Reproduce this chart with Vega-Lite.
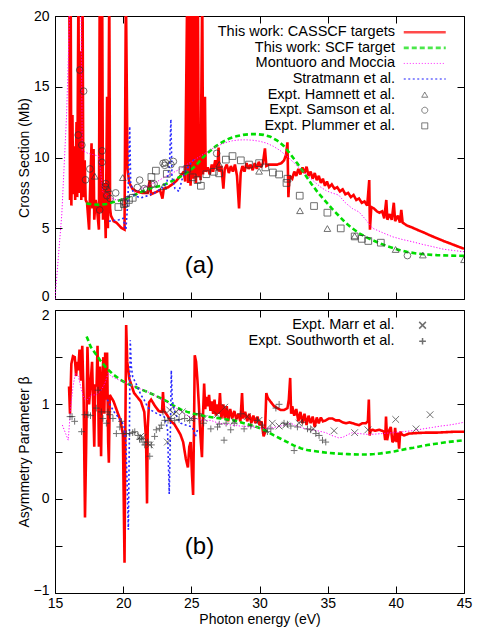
{
  "$schema": "https://vega.github.io/schema/vega-lite/v6.json",
  "padding": {"left": 16, "top": 8, "right": 22, "bottom": 0},
  "config": {
    "font": "Liberation Sans",
    "view": {"stroke": "#000", "strokeWidth": 1},
    "axis": {"domain": false, "grid": false, "tickColor": "#000", "tickWidth": 1, "tickSize": 7, "offset": -7, "labelPadding": 6, "labelFontSize": 14, "titleFontSize": 14, "titleFontWeight": "normal", "labelColor": "#000", "titleColor": "#000", "labelFlush": false, "labelOverlap": false},
    "legend": {"padding": 0}
  },
  "bounds": "flush",
  "spacing": 11,
  "resolve": {"scale": {"color": "independent", "shape": "independent", "strokeDash": "independent", "strokeWidth": "independent"}, "legend": {"color": "independent", "shape": "independent", "strokeDash": "independent", "strokeWidth": "independent"}},
  "datasets": {
    "a_lines": [
      {"s":"This work: CASSCF targets","E":16.05,"v":22},{"s":"This work: CASSCF targets","E":16.1,"v":7.0},{"s":"This work: CASSCF targets","E":16.15,"v":22},{"s":"This work: CASSCF targets","E":16.2,"v":6.6},{"s":"This work: CASSCF targets","E":16.28,"v":13.0},{"s":"This work: CASSCF targets","E":16.33,"v":7.4},{"s":"This work: CASSCF targets","E":16.42,"v":10.8},{"s":"This work: CASSCF targets","E":16.48,"v":7.0},{"s":"This work: CASSCF targets","E":16.58,"v":12.5},{"s":"This work: CASSCF targets","E":16.63,"v":7.2},{"s":"This work: CASSCF targets","E":16.72,"v":22},{"s":"This work: CASSCF targets","E":16.78,"v":7.5},{"s":"This work: CASSCF targets","E":16.88,"v":17.5},{"s":"This work: CASSCF targets","E":16.93,"v":7.0},{"s":"This work: CASSCF targets","E":17.02,"v":22},{"s":"This work: CASSCF targets","E":17.08,"v":7.2},{"s":"This work: CASSCF targets","E":17.18,"v":9.8},{"s":"This work: CASSCF targets","E":17.25,"v":7.0},{"s":"This work: CASSCF targets","E":17.35,"v":6.8},{"s":"This work: CASSCF targets","E":17.5,"v":4.9},{"s":"This work: CASSCF targets","E":17.57,"v":7.6},{"s":"This work: CASSCF targets","E":17.68,"v":11.0},{"s":"This work: CASSCF targets","E":17.74,"v":6.4},{"s":"This work: CASSCF targets","E":17.83,"v":10.6},{"s":"This work: CASSCF targets","E":17.88,"v":5.6},{"s":"This work: CASSCF targets","E":17.98,"v":7.0},{"s":"This work: CASSCF targets","E":18.08,"v":6.4},{"s":"This work: CASSCF targets","E":18.22,"v":4.9},{"s":"This work: CASSCF targets","E":18.28,"v":22},{"s":"This work: CASSCF targets","E":18.36,"v":6.1},{"s":"This work: CASSCF targets","E":18.46,"v":22},{"s":"This work: CASSCF targets","E":18.52,"v":5.6},{"s":"This work: CASSCF targets","E":18.62,"v":8.2},{"s":"This work: CASSCF targets","E":18.72,"v":4.3},{"s":"This work: CASSCF targets","E":18.82,"v":14.3},{"s":"This work: CASSCF targets","E":18.88,"v":5.0},{"s":"This work: CASSCF targets","E":18.98,"v":22},{"s":"This work: CASSCF targets","E":19.04,"v":6.4},{"s":"This work: CASSCF targets","E":19.1,"v":5.9},{"s":"This work: CASSCF targets","E":19.3,"v":5.5},{"s":"This work: CASSCF targets","E":19.5,"v":5.4},{"s":"This work: CASSCF targets","E":19.7,"v":5.2},{"s":"This work: CASSCF targets","E":19.9,"v":5.0},{"s":"This work: CASSCF targets","E":20.1,"v":4.9},{"s":"This work: CASSCF targets","E":20.2,"v":22},{"s":"This work: CASSCF targets","E":20.32,"v":9.2},{"s":"This work: CASSCF targets","E":20.45,"v":8.2},{"s":"This work: CASSCF targets","E":20.7,"v":7.75},{"s":"This work: CASSCF targets","E":21.0,"v":7.6},{"s":"This work: CASSCF targets","E":21.4,"v":7.5},{"s":"This work: CASSCF targets","E":21.8,"v":7.5},{"s":"This work: CASSCF targets","E":21.95,"v":8.4},{"s":"This work: CASSCF targets","E":22.05,"v":7.4},{"s":"This work: CASSCF targets","E":22.4,"v":7.55},{"s":"This work: CASSCF targets","E":22.7,"v":7.7},{"s":"This work: CASSCF targets","E":22.88,"v":7.1},{"s":"This work: CASSCF targets","E":22.98,"v":7.8},{"s":"This work: CASSCF targets","E":23.3,"v":7.9},{"s":"This work: CASSCF targets","E":23.6,"v":8.1},{"s":"This work: CASSCF targets","E":23.9,"v":8.35},{"s":"This work: CASSCF targets","E":24.2,"v":8.7},{"s":"This work: CASSCF targets","E":24.45,"v":9.0},{"s":"This work: CASSCF targets","E":24.55,"v":8.3},{"s":"This work: CASSCF targets","E":24.7,"v":22},{"s":"This work: CASSCF targets","E":24.76,"v":8.2},{"s":"This work: CASSCF targets","E":24.88,"v":22},{"s":"This work: CASSCF targets","E":24.94,"v":8.0},{"s":"This work: CASSCF targets","E":25.02,"v":9.6},{"s":"This work: CASSCF targets","E":25.08,"v":22},{"s":"This work: CASSCF targets","E":25.14,"v":8.5},{"s":"This work: CASSCF targets","E":25.28,"v":22},{"s":"This work: CASSCF targets","E":25.34,"v":8.2},{"s":"This work: CASSCF targets","E":25.48,"v":22},{"s":"This work: CASSCF targets","E":25.54,"v":8.6},{"s":"This work: CASSCF targets","E":25.62,"v":10.2},{"s":"This work: CASSCF targets","E":25.68,"v":8.4},{"s":"This work: CASSCF targets","E":25.8,"v":22},{"s":"This work: CASSCF targets","E":25.86,"v":8.8},{"s":"This work: CASSCF targets","E":26.0,"v":14.3},{"s":"This work: CASSCF targets","E":26.05,"v":9.0},{"s":"This work: CASSCF targets","E":26.2,"v":9.3},{"s":"This work: CASSCF targets","E":26.35,"v":8.8},{"s":"This work: CASSCF targets","E":26.5,"v":9.5},{"s":"This work: CASSCF targets","E":26.6,"v":9.0},{"s":"This work: CASSCF targets","E":26.75,"v":9.8},{"s":"This work: CASSCF targets","E":26.9,"v":9.1},{"s":"This work: CASSCF targets","E":27.0,"v":10.7},{"s":"This work: CASSCF targets","E":27.05,"v":9.0},{"s":"This work: CASSCF targets","E":27.2,"v":9.4},{"s":"This work: CASSCF targets","E":27.35,"v":7.8},{"s":"This work: CASSCF targets","E":27.45,"v":9.2},{"s":"This work: CASSCF targets","E":27.6,"v":9.5},{"s":"This work: CASSCF targets","E":27.75,"v":8.9},{"s":"This work: CASSCF targets","E":27.9,"v":9.4},{"s":"This work: CASSCF targets","E":28.05,"v":9.0},{"s":"This work: CASSCF targets","E":28.2,"v":9.5},{"s":"This work: CASSCF targets","E":28.35,"v":8.7},{"s":"This work: CASSCF targets","E":28.5,"v":6.4},{"s":"This work: CASSCF targets","E":28.62,"v":8.9},{"s":"This work: CASSCF targets","E":28.75,"v":9.4},{"s":"This work: CASSCF targets","E":28.9,"v":9.0},{"s":"This work: CASSCF targets","E":29.05,"v":9.6},{"s":"This work: CASSCF targets","E":29.2,"v":9.2},{"s":"This work: CASSCF targets","E":29.35,"v":9.5},{"s":"This work: CASSCF targets","E":29.5,"v":9.1},{"s":"This work: CASSCF targets","E":29.65,"v":9.6},{"s":"This work: CASSCF targets","E":29.8,"v":9.2},{"s":"This work: CASSCF targets","E":29.95,"v":9.7},{"s":"This work: CASSCF targets","E":30.1,"v":9.3},{"s":"This work: CASSCF targets","E":30.25,"v":9.6},{"s":"This work: CASSCF targets","E":30.4,"v":10.65},{"s":"This work: CASSCF targets","E":30.5,"v":9.4},{"s":"This work: CASSCF targets","E":30.7,"v":9.5},{"s":"This work: CASSCF targets","E":31.0,"v":9.5},{"s":"This work: CASSCF targets","E":31.3,"v":9.5},{"s":"This work: CASSCF targets","E":31.6,"v":9.6},{"s":"This work: CASSCF targets","E":31.8,"v":9.8},{"s":"This work: CASSCF targets","E":31.95,"v":10.2},{"s":"This work: CASSCF targets","E":32.05,"v":11.07},{"s":"This work: CASSCF targets","E":32.12,"v":7.2},{"s":"This work: CASSCF targets","E":32.2,"v":8.7},{"s":"This work: CASSCF targets","E":32.4,"v":8.5},{"s":"This work: CASSCF targets","E":32.55,"v":9.0},{"s":"This work: CASSCF targets","E":32.7,"v":8.7},{"s":"This work: CASSCF targets","E":32.85,"v":9.2},{"s":"This work: CASSCF targets","E":33.0,"v":8.8},{"s":"This work: CASSCF targets","E":33.15,"v":9.3},{"s":"This work: CASSCF targets","E":33.3,"v":8.9},{"s":"This work: CASSCF targets","E":33.45,"v":9.35},{"s":"This work: CASSCF targets","E":33.6,"v":8.7},{"s":"This work: CASSCF targets","E":33.75,"v":9.0},{"s":"This work: CASSCF targets","E":33.9,"v":8.5},{"s":"This work: CASSCF targets","E":34.05,"v":8.9},{"s":"This work: CASSCF targets","E":34.2,"v":8.4},{"s":"This work: CASSCF targets","E":34.35,"v":8.7},{"s":"This work: CASSCF targets","E":34.5,"v":8.2},{"s":"This work: CASSCF targets","E":34.65,"v":8.5},{"s":"This work: CASSCF targets","E":34.8,"v":8.0},{"s":"This work: CASSCF targets","E":34.95,"v":8.3},{"s":"This work: CASSCF targets","E":35.1,"v":7.9},{"s":"This work: CASSCF targets","E":35.3,"v":8.1},{"s":"This work: CASSCF targets","E":35.5,"v":7.8},{"s":"This work: CASSCF targets","E":35.7,"v":7.9},{"s":"This work: CASSCF targets","E":35.9,"v":7.6},{"s":"This work: CASSCF targets","E":36.1,"v":7.75},{"s":"This work: CASSCF targets","E":36.3,"v":7.4},{"s":"This work: CASSCF targets","E":36.5,"v":7.5},{"s":"This work: CASSCF targets","E":36.7,"v":7.2},{"s":"This work: CASSCF targets","E":36.9,"v":7.35},{"s":"This work: CASSCF targets","E":37.1,"v":7.0},{"s":"This work: CASSCF targets","E":37.3,"v":7.1},{"s":"This work: CASSCF targets","E":37.5,"v":6.8},{"s":"This work: CASSCF targets","E":37.7,"v":6.9},{"s":"This work: CASSCF targets","E":37.9,"v":6.6},{"s":"This work: CASSCF targets","E":38.05,"v":8.4},{"s":"This work: CASSCF targets","E":38.1,"v":4.9},{"s":"This work: CASSCF targets","E":38.2,"v":6.5},{"s":"This work: CASSCF targets","E":38.4,"v":6.4},{"s":"This work: CASSCF targets","E":38.6,"v":6.2},{"s":"This work: CASSCF targets","E":38.8,"v":6.1},{"s":"This work: CASSCF targets","E":39.0,"v":6.2},{"s":"This work: CASSCF targets","E":39.15,"v":5.7},{"s":"This work: CASSCF targets","E":39.3,"v":7.0},{"s":"This work: CASSCF targets","E":39.38,"v":5.6},{"s":"This work: CASSCF targets","E":39.55,"v":6.0},{"s":"This work: CASSCF targets","E":39.7,"v":5.6},{"s":"This work: CASSCF targets","E":39.85,"v":6.8},{"s":"This work: CASSCF targets","E":39.95,"v":5.5},{"s":"This work: CASSCF targets","E":40.15,"v":5.9},{"s":"This work: CASSCF targets","E":40.3,"v":5.4},{"s":"This work: CASSCF targets","E":40.4,"v":6.3},{"s":"This work: CASSCF targets","E":40.5,"v":5.4},{"s":"This work: CASSCF targets","E":40.8,"v":5.2},{"s":"This work: CASSCF targets","E":41.2,"v":5.05},{"s":"This work: CASSCF targets","E":41.6,"v":4.88},{"s":"This work: CASSCF targets","E":42.0,"v":4.72},{"s":"This work: CASSCF targets","E":42.5,"v":4.5},{"s":"This work: CASSCF targets","E":43.0,"v":4.3},{"s":"This work: CASSCF targets","E":43.5,"v":4.1},{"s":"This work: CASSCF targets","E":44.0,"v":3.92},{"s":"This work: CASSCF targets","E":44.5,"v":3.73},{"s":"This work: CASSCF targets","E":45.0,"v":3.55},
      {"s":"This work: SCF target","E":17.3,"v":6.75},{"s":"This work: SCF target","E":17.8,"v":6.68},{"s":"This work: SCF target","E":18.3,"v":6.65},{"s":"This work: SCF target","E":18.8,"v":6.72},{"s":"This work: SCF target","E":19.3,"v":6.85},{"s":"This work: SCF target","E":19.8,"v":7.0},{"s":"This work: SCF target","E":20.3,"v":7.15},{"s":"This work: SCF target","E":20.8,"v":7.35},{"s":"This work: SCF target","E":21.3,"v":7.55},{"s":"This work: SCF target","E":21.8,"v":7.75},{"s":"This work: SCF target","E":22.3,"v":7.9},{"s":"This work: SCF target","E":22.8,"v":8.0},{"s":"This work: SCF target","E":23.3,"v":8.2},{"s":"This work: SCF target","E":23.8,"v":8.45},{"s":"This work: SCF target","E":24.3,"v":8.7},{"s":"This work: SCF target","E":24.8,"v":9.0},{"s":"This work: SCF target","E":25.3,"v":9.4},{"s":"This work: SCF target","E":25.8,"v":9.95},{"s":"This work: SCF target","E":26.3,"v":10.4},{"s":"This work: SCF target","E":26.8,"v":10.8},{"s":"This work: SCF target","E":27.3,"v":11.1},{"s":"This work: SCF target","E":27.8,"v":11.35},{"s":"This work: SCF target","E":28.3,"v":11.5},{"s":"This work: SCF target","E":28.8,"v":11.6},{"s":"This work: SCF target","E":29.3,"v":11.65},{"s":"This work: SCF target","E":29.8,"v":11.65},{"s":"This work: SCF target","E":30.3,"v":11.6},{"s":"This work: SCF target","E":30.8,"v":11.47},{"s":"This work: SCF target","E":31.3,"v":11.2},{"s":"This work: SCF target","E":31.8,"v":10.8},{"s":"This work: SCF target","E":32.3,"v":10.2},{"s":"This work: SCF target","E":32.8,"v":9.55},{"s":"This work: SCF target","E":33.3,"v":8.85},{"s":"This work: SCF target","E":33.8,"v":8.15},{"s":"This work: SCF target","E":34.3,"v":7.5},{"s":"This work: SCF target","E":34.8,"v":6.95},{"s":"This work: SCF target","E":35.3,"v":6.4},{"s":"This work: SCF target","E":35.8,"v":5.9},{"s":"This work: SCF target","E":36.3,"v":5.4},{"s":"This work: SCF target","E":36.8,"v":5.0},{"s":"This work: SCF target","E":37.3,"v":4.65},{"s":"This work: SCF target","E":37.8,"v":4.38},{"s":"This work: SCF target","E":38.3,"v":4.15},{"s":"This work: SCF target","E":38.8,"v":3.95},{"s":"This work: SCF target","E":39.3,"v":3.75},{"s":"This work: SCF target","E":39.8,"v":3.6},{"s":"This work: SCF target","E":40.3,"v":3.45},{"s":"This work: SCF target","E":40.8,"v":3.33},{"s":"This work: SCF target","E":41.5,"v":3.22},{"s":"This work: SCF target","E":42.2,"v":3.15},{"s":"This work: SCF target","E":43.0,"v":3.1},{"s":"This work: SCF target","E":44.0,"v":3.07},{"s":"This work: SCF target","E":45.0,"v":3.05},
      {"s":"Montuoro and Moccia","E":15.0,"v":0},{"s":"Montuoro and Moccia","E":15.25,"v":3.0},{"s":"Montuoro and Moccia","E":15.5,"v":6.0},{"s":"Montuoro and Moccia","E":15.85,"v":13.0},{"s":"Montuoro and Moccia","E":16.1,"v":21},{"s":"Montuoro and Moccia","E":16.9,"v":21},{"s":"Montuoro and Moccia","E":17.0,"v":10.5},{"s":"Montuoro and Moccia","E":17.4,"v":10.3},{"s":"Montuoro and Moccia","E":18.2,"v":10.1},{"s":"Montuoro and Moccia","E":18.35,"v":9.0},{"s":"Montuoro and Moccia","E":18.5,"v":7.6},{"s":"Montuoro and Moccia","E":18.9,"v":7.2},{"s":"Montuoro and Moccia","E":19.5,"v":7.0},{"s":"Montuoro and Moccia","E":20.0,"v":7.05},{"s":"Montuoro and Moccia","E":20.5,"v":7.3},{"s":"Montuoro and Moccia","E":21.0,"v":7.6},{"s":"Montuoro and Moccia","E":21.5,"v":7.9},{"s":"Montuoro and Moccia","E":22.0,"v":8.1},{"s":"Montuoro and Moccia","E":22.5,"v":8.3},{"s":"Montuoro and Moccia","E":23.0,"v":8.6},{"s":"Montuoro and Moccia","E":23.5,"v":8.85},{"s":"Montuoro and Moccia","E":24.0,"v":9.1},{"s":"Montuoro and Moccia","E":24.5,"v":9.4},{"s":"Montuoro and Moccia","E":25.0,"v":9.7},{"s":"Montuoro and Moccia","E":25.5,"v":10.0},{"s":"Montuoro and Moccia","E":26.0,"v":10.3},{"s":"Montuoro and Moccia","E":26.5,"v":10.6},{"s":"Montuoro and Moccia","E":27.0,"v":10.85},{"s":"Montuoro and Moccia","E":27.5,"v":11.05},{"s":"Montuoro and Moccia","E":28.0,"v":11.18},{"s":"Montuoro and Moccia","E":28.5,"v":11.24},{"s":"Montuoro and Moccia","E":29.0,"v":11.25},{"s":"Montuoro and Moccia","E":29.5,"v":11.22},{"s":"Montuoro and Moccia","E":30.0,"v":11.15},{"s":"Montuoro and Moccia","E":30.5,"v":11.02},{"s":"Montuoro and Moccia","E":31.0,"v":10.8},{"s":"Montuoro and Moccia","E":31.5,"v":10.5},{"s":"Montuoro and Moccia","E":32.0,"v":10.1},{"s":"Montuoro and Moccia","E":32.5,"v":9.65},{"s":"Montuoro and Moccia","E":33.0,"v":9.2},{"s":"Montuoro and Moccia","E":33.5,"v":8.75},{"s":"Montuoro and Moccia","E":34.0,"v":8.3},{"s":"Montuoro and Moccia","E":34.5,"v":7.9},{"s":"Montuoro and Moccia","E":34.9,"v":7.65},{"s":"Montuoro and Moccia","E":35.3,"v":7.5},{"s":"Montuoro and Moccia","E":35.8,"v":7.35},{"s":"Montuoro and Moccia","E":36.3,"v":6.8},{"s":"Montuoro and Moccia","E":36.8,"v":6.4},{"s":"Montuoro and Moccia","E":37.3,"v":6.15},{"s":"Montuoro and Moccia","E":37.8,"v":5.6},{"s":"Montuoro and Moccia","E":38.3,"v":5.0},{"s":"Montuoro and Moccia","E":39.0,"v":4.7},{"s":"Montuoro and Moccia","E":39.75,"v":4.4},{"s":"Montuoro and Moccia","E":40.5,"v":4.2},{"s":"Montuoro and Moccia","E":41.2,"v":4.05},{"s":"Montuoro and Moccia","E":42.0,"v":3.85},{"s":"Montuoro and Moccia","E":42.7,"v":3.7},{"s":"Montuoro and Moccia","E":43.5,"v":3.52},{"s":"Montuoro and Moccia","E":44.3,"v":3.42},{"s":"Montuoro and Moccia","E":45.0,"v":3.34},
      {"s":"Stratmann et al.","E":18.95,"v":5.5},{"s":"Stratmann et al.","E":19.3,"v":5.55},{"s":"Stratmann et al.","E":19.7,"v":5.6},{"s":"Stratmann et al.","E":20.0,"v":5.7},{"s":"Stratmann et al.","E":20.12,"v":5.2},{"s":"Stratmann et al.","E":20.2,"v":4.9},{"s":"Stratmann et al.","E":20.35,"v":7.0},{"s":"Stratmann et al.","E":20.48,"v":12.2},{"s":"Stratmann et al.","E":20.55,"v":8.2},{"s":"Stratmann et al.","E":20.8,"v":7.3},{"s":"Stratmann et al.","E":21.3,"v":7.15},{"s":"Stratmann et al.","E":21.8,"v":7.3},{"s":"Stratmann et al.","E":22.3,"v":7.5},{"s":"Stratmann et al.","E":22.8,"v":7.8},{"s":"Stratmann et al.","E":23.2,"v":8.2},{"s":"Stratmann et al.","E":23.4,"v":9.5},{"s":"Stratmann et al.","E":23.5,"v":12.7},{"s":"Stratmann et al.","E":23.58,"v":8.6},{"s":"Stratmann et al.","E":23.8,"v":7.8},{"s":"Stratmann et al.","E":24.1,"v":7.6},{"s":"Stratmann et al.","E":24.3,"v":8.4},{"s":"Stratmann et al.","E":24.6,"v":9.1},{"s":"Stratmann et al.","E":24.9,"v":9.5},{"s":"Stratmann et al.","E":25.3,"v":10.0}
    ],
    "a_points": [
      {"s":"Expt. Hamnett et al.","E":17.92,"v":8.68},{"s":"Expt. Hamnett et al.","E":18.9,"v":7.8},{"s":"Expt. Hamnett et al.","E":19.97,"v":8.58},{"s":"Expt. Hamnett et al.","E":22.95,"v":7.95},{"s":"Expt. Hamnett et al.","E":27.05,"v":9.52},{"s":"Expt. Hamnett et al.","E":29.97,"v":9.03},{"s":"Expt. Hamnett et al.","E":32.97,"v":6.24},{"s":"Expt. Hamnett et al.","E":34.98,"v":4.98},{"s":"Expt. Hamnett et al.","E":36.98,"v":4.46},{"s":"Expt. Hamnett et al.","E":39.98,"v":3.5},{"s":"Expt. Hamnett et al.","E":41.98,"v":3.11},{"s":"Expt. Hamnett et al.","E":45.0,"v":2.78},
      {"s":"Expt. Samson et al.","E":16.81,"v":16.18},{"s":"Expt. Samson et al.","E":17.1,"v":14.69},{"s":"Expt. Samson et al.","E":16.7,"v":11.59},{"s":"Expt. Samson et al.","E":16.97,"v":10.88},{"s":"Expt. Samson et al.","E":17.56,"v":9.19},{"s":"Expt. Samson et al.","E":17.24,"v":8.42},{"s":"Expt. Samson et al.","E":18.46,"v":10.47},{"s":"Expt. Samson et al.","E":18.45,"v":9.66},{"s":"Expt. Samson et al.","E":18.72,"v":8.15},{"s":"Expt. Samson et al.","E":18.7,"v":7.95},{"s":"Expt. Samson et al.","E":18.8,"v":7.3},{"s":"Expt. Samson et al.","E":18.28,"v":6.29},{"s":"Expt. Samson et al.","E":19.45,"v":7.5},{"s":"Expt. Samson et al.","E":19.05,"v":7.1},{"s":"Expt. Samson et al.","E":20.06,"v":6.88},{"s":"Expt. Samson et al.","E":21.21,"v":8.4},{"s":"Expt. Samson et al.","E":21.04,"v":7.88},{"s":"Expt. Samson et al.","E":21.55,"v":7.8},{"s":"Expt. Samson et al.","E":21.7,"v":7.7},{"s":"Expt. Samson et al.","E":22.1,"v":8.1},{"s":"Expt. Samson et al.","E":22.27,"v":8.13},{"s":"Expt. Samson et al.","E":22.93,"v":9.59},{"s":"Expt. Samson et al.","E":23.05,"v":9.45},{"s":"Expt. Samson et al.","E":23.1,"v":9.63},{"s":"Expt. Samson et al.","E":23.68,"v":9.72},{"s":"Expt. Samson et al.","E":23.5,"v":9.5},{"s":"Expt. Samson et al.","E":26.86,"v":10.29},{"s":"Expt. Samson et al.","E":40.85,"v":3.07},
      {"s":"Expt. Plummer et al.","E":19.65,"v":6.5},{"s":"Expt. Plummer et al.","E":20.05,"v":6.7},{"s":"Expt. Plummer et al.","E":20.2,"v":6.78},{"s":"Expt. Plummer et al.","E":20.42,"v":7.0},{"s":"Expt. Plummer et al.","E":20.7,"v":7.15},{"s":"Expt. Plummer et al.","E":22.07,"v":8.62},{"s":"Expt. Plummer et al.","E":22.4,"v":9.07},{"s":"Expt. Plummer et al.","E":23.2,"v":8.85},{"s":"Expt. Plummer et al.","E":24.35,"v":9.1},{"s":"Expt. Plummer et al.","E":24.7,"v":9.2},{"s":"Expt. Plummer et al.","E":25.1,"v":8.6},{"s":"Expt. Plummer et al.","E":25.45,"v":8.4},{"s":"Expt. Plummer et al.","E":25.7,"v":8.0},{"s":"Expt. Plummer et al.","E":26.1,"v":8.82},{"s":"Expt. Plummer et al.","E":26.65,"v":8.99},{"s":"Expt. Plummer et al.","E":27.04,"v":8.88},{"s":"Expt. Plummer et al.","E":27.53,"v":9.85},{"s":"Expt. Plummer et al.","E":28.02,"v":10.1},{"s":"Expt. Plummer et al.","E":28.63,"v":9.8},{"s":"Expt. Plummer et al.","E":29.23,"v":9.5},{"s":"Expt. Plummer et al.","E":29.97,"v":9.6},{"s":"Expt. Plummer et al.","E":30.43,"v":9.3},{"s":"Expt. Plummer et al.","E":30.98,"v":8.94},{"s":"Expt. Plummer et al.","E":31.44,"v":8.8},{"s":"Expt. Plummer et al.","E":31.98,"v":8.2},{"s":"Expt. Plummer et al.","E":32.05,"v":8.5},{"s":"Expt. Plummer et al.","E":32.95,"v":7.3},{"s":"Expt. Plummer et al.","E":34.0,"v":6.57},{"s":"Expt. Plummer et al.","E":34.98,"v":6.1},{"s":"Expt. Plummer et al.","E":35.96,"v":4.99},{"s":"Expt. Plummer et al.","E":36.98,"v":4.42},{"s":"Expt. Plummer et al.","E":37.5,"v":4.25},{"s":"Expt. Plummer et al.","E":37.98,"v":4.1},{"s":"Expt. Plummer et al.","E":38.9,"v":3.98}
    ],
    "b_lines": [
      {"s":"CASSCF","E":16.03,"v":1.19},{"s":"CASSCF","E":16.1,"v":0.9},{"s":"CASSCF","E":16.2,"v":1.43},{"s":"CASSCF","E":16.32,"v":1.51},{"s":"CASSCF","E":16.45,"v":1.5},{"s":"CASSCF","E":16.55,"v":1.3},{"s":"CASSCF","E":16.62,"v":1.45},{"s":"CASSCF","E":16.7,"v":1.36},{"s":"CASSCF","E":16.8,"v":1.58},{"s":"CASSCF","E":16.9,"v":1.25},{"s":"CASSCF","E":17.0,"v":1.62},{"s":"CASSCF","E":17.1,"v":1.08},{"s":"CASSCF","E":17.2,"v":-0.2},{"s":"CASSCF","E":17.28,"v":0.5},{"s":"CASSCF","E":17.38,"v":1.61},{"s":"CASSCF","E":17.5,"v":1.0},{"s":"CASSCF","E":17.6,"v":1.2},{"s":"CASSCF","E":17.72,"v":1.45},{"s":"CASSCF","E":17.8,"v":1.0},{"s":"CASSCF","E":17.88,"v":0.55},{"s":"CASSCF","E":17.95,"v":1.2},{"s":"CASSCF","E":18.05,"v":1.2},{"s":"CASSCF","E":18.12,"v":1.62},{"s":"CASSCF","E":18.22,"v":0.55},{"s":"CASSCF","E":18.3,"v":1.4},{"s":"CASSCF","E":18.38,"v":0.45},{"s":"CASSCF","E":18.45,"v":1.2},{"s":"CASSCF","E":18.55,"v":1.5},{"s":"CASSCF","E":18.62,"v":0.9},{"s":"CASSCF","E":18.68,"v":1.55},{"s":"CASSCF","E":18.75,"v":1.05},{"s":"CASSCF","E":18.82,"v":1.55},{"s":"CASSCF","E":18.9,"v":0.6},{"s":"CASSCF","E":18.95,"v":0.38},{"s":"CASSCF","E":19.02,"v":1.1},{"s":"CASSCF","E":19.1,"v":1.08},{"s":"CASSCF","E":19.3,"v":1.03},{"s":"CASSCF","E":19.55,"v":0.93},{"s":"CASSCF","E":19.8,"v":0.83},{"s":"CASSCF","E":19.98,"v":0.68},{"s":"CASSCF","E":20.1,"v":-0.68},{"s":"CASSCF","E":20.15,"v":0.5},{"s":"CASSCF","E":20.22,"v":1.84},{"s":"CASSCF","E":20.3,"v":1.45},{"s":"CASSCF","E":20.45,"v":1.27},{"s":"CASSCF","E":20.8,"v":1.12},{"s":"CASSCF","E":21.3,"v":1.03},{"s":"CASSCF","E":21.55,"v":0.92},{"s":"CASSCF","E":21.68,"v":0.62},{"s":"CASSCF","E":21.75,"v":-0.05},{"s":"CASSCF","E":21.8,"v":0.75},{"s":"CASSCF","E":21.9,"v":1.02},{"s":"CASSCF","E":22.05,"v":1.05},{"s":"CASSCF","E":22.3,"v":0.99},{"s":"CASSCF","E":22.6,"v":0.93},{"s":"CASSCF","E":22.85,"v":0.92},{"s":"CASSCF","E":22.92,"v":1.13},{"s":"CASSCF","E":23.0,"v":0.93},{"s":"CASSCF","E":23.25,"v":0.88},{"s":"CASSCF","E":23.5,"v":0.82},{"s":"CASSCF","E":23.75,"v":0.79},{"s":"CASSCF","E":24.0,"v":0.73},{"s":"CASSCF","E":24.2,"v":0.68},{"s":"CASSCF","E":24.4,"v":0.6},{"s":"CASSCF","E":24.6,"v":0.42},{"s":"CASSCF","E":24.75,"v":0.33},{"s":"CASSCF","E":24.85,"v":0.55},{"s":"CASSCF","E":24.95,"v":0.6},{"s":"CASSCF","E":25.05,"v":0.25},{"s":"CASSCF","E":25.13,"v":0.04},{"s":"CASSCF","E":25.2,"v":0.8},{"s":"CASSCF","E":25.25,"v":1.52},{"s":"CASSCF","E":25.35,"v":1.45},{"s":"CASSCF","E":25.45,"v":1.25},{"s":"CASSCF","E":25.55,"v":1.0},{"s":"CASSCF","E":25.62,"v":0.8},{"s":"CASSCF","E":25.7,"v":0.6},{"s":"CASSCF","E":25.78,"v":0.44},{"s":"CASSCF","E":25.86,"v":0.9},{"s":"CASSCF","E":25.94,"v":1.22},{"s":"CASSCF","E":26.02,"v":0.95},{"s":"CASSCF","E":26.1,"v":1.08},{"s":"CASSCF","E":26.2,"v":0.98},{"s":"CASSCF","E":26.3,"v":1.1},{"s":"CASSCF","E":26.4,"v":0.93},{"s":"CASSCF","E":26.5,"v":1.03},{"s":"CASSCF","E":26.6,"v":0.9},{"s":"CASSCF","E":26.7,"v":1.05},{"s":"CASSCF","E":26.8,"v":0.88},{"s":"CASSCF","E":26.9,"v":1.0},{"s":"CASSCF","E":27.0,"v":0.9},{"s":"CASSCF","E":27.1,"v":1.12},{"s":"CASSCF","E":27.2,"v":0.85},{"s":"CASSCF","E":27.35,"v":1.0},{"s":"CASSCF","E":27.45,"v":0.85},{"s":"CASSCF","E":27.6,"v":0.98},{"s":"CASSCF","E":27.7,"v":0.82},{"s":"CASSCF","E":27.85,"v":0.95},{"s":"CASSCF","E":28.0,"v":0.85},{"s":"CASSCF","E":28.15,"v":0.93},{"s":"CASSCF","E":28.3,"v":0.84},{"s":"CASSCF","E":28.45,"v":0.9},{"s":"CASSCF","E":28.6,"v":0.82},{"s":"CASSCF","E":28.72,"v":1.12},{"s":"CASSCF","E":28.8,"v":0.85},{"s":"CASSCF","E":28.95,"v":0.92},{"s":"CASSCF","E":29.1,"v":0.82},{"s":"CASSCF","E":29.25,"v":0.9},{"s":"CASSCF","E":29.4,"v":0.8},{"s":"CASSCF","E":29.55,"v":0.88},{"s":"CASSCF","E":29.7,"v":0.8},{"s":"CASSCF","E":29.85,"v":0.87},{"s":"CASSCF","E":30.0,"v":0.78},{"s":"CASSCF","E":30.15,"v":0.82},{"s":"CASSCF","E":30.3,"v":0.66},{"s":"CASSCF","E":30.4,"v":0.7},{"s":"CASSCF","E":30.5,"v":1.12},{"s":"CASSCF","E":30.6,"v":1.07},{"s":"CASSCF","E":30.8,"v":1.03},{"s":"CASSCF","E":31.07,"v":0.98},{"s":"CASSCF","E":31.3,"v":0.96},{"s":"CASSCF","E":31.56,"v":0.94},{"s":"CASSCF","E":31.8,"v":0.94},{"s":"CASSCF","E":32.05,"v":0.96},{"s":"CASSCF","E":32.15,"v":1.05},{"s":"CASSCF","E":32.25,"v":1.28},{"s":"CASSCF","E":32.32,"v":0.9},{"s":"CASSCF","E":32.4,"v":0.98},{"s":"CASSCF","E":32.55,"v":0.88},{"s":"CASSCF","E":32.7,"v":0.95},{"s":"CASSCF","E":32.85,"v":0.82},{"s":"CASSCF","E":33.0,"v":0.92},{"s":"CASSCF","E":33.15,"v":0.8},{"s":"CASSCF","E":33.3,"v":0.9},{"s":"CASSCF","E":33.45,"v":0.78},{"s":"CASSCF","E":33.6,"v":0.88},{"s":"CASSCF","E":33.75,"v":0.8},{"s":"CASSCF","E":33.9,"v":0.87},{"s":"CASSCF","E":34.05,"v":0.76},{"s":"CASSCF","E":34.2,"v":0.86},{"s":"CASSCF","E":34.35,"v":0.8},{"s":"CASSCF","E":34.5,"v":0.86},{"s":"CASSCF","E":34.65,"v":0.82},{"s":"CASSCF","E":34.86,"v":0.83},{"s":"CASSCF","E":35.1,"v":0.85},{"s":"CASSCF","E":35.35,"v":0.85},{"s":"CASSCF","E":35.6,"v":0.83},{"s":"CASSCF","E":35.84,"v":0.83},{"s":"CASSCF","E":36.1,"v":0.81},{"s":"CASSCF","E":36.33,"v":0.8},{"s":"CASSCF","E":36.6,"v":0.81},{"s":"CASSCF","E":36.8,"v":0.8},{"s":"CASSCF","E":37.05,"v":0.79},{"s":"CASSCF","E":37.3,"v":0.78},{"s":"CASSCF","E":37.55,"v":0.8},{"s":"CASSCF","E":37.8,"v":0.8},{"s":"CASSCF","E":37.95,"v":0.82},{"s":"CASSCF","E":38.02,"v":1.05},{"s":"CASSCF","E":38.08,"v":0.67},{"s":"CASSCF","E":38.15,"v":0.72},{"s":"CASSCF","E":38.28,"v":0.73},{"s":"CASSCF","E":38.5,"v":0.72},{"s":"CASSCF","E":38.77,"v":0.73},{"s":"CASSCF","E":39.0,"v":0.72},{"s":"CASSCF","E":39.14,"v":0.71},{"s":"CASSCF","E":39.22,"v":0.62},{"s":"CASSCF","E":39.28,"v":0.87},{"s":"CASSCF","E":39.36,"v":0.62},{"s":"CASSCF","E":39.5,"v":0.72},{"s":"CASSCF","E":39.63,"v":0.76},{"s":"CASSCF","E":39.75,"v":0.6},{"s":"CASSCF","E":39.87,"v":0.62},{"s":"CASSCF","E":39.95,"v":0.75},{"s":"CASSCF","E":40.05,"v":0.6},{"s":"CASSCF","E":40.15,"v":0.7},{"s":"CASSCF","E":40.24,"v":0.53},{"s":"CASSCF","E":40.32,"v":0.71},{"s":"CASSCF","E":40.45,"v":0.68},{"s":"CASSCF","E":40.6,"v":0.67},{"s":"CASSCF","E":40.97,"v":0.69},{"s":"CASSCF","E":41.5,"v":0.695},{"s":"CASSCF","E":42.2,"v":0.7},{"s":"CASSCF","E":43.0,"v":0.7},{"s":"CASSCF","E":43.7,"v":0.705},{"s":"CASSCF","E":44.4,"v":0.71},{"s":"CASSCF","E":45.0,"v":0.71},
      {"s":"SCF","E":17.32,"v":1.72},{"s":"SCF","E":17.62,"v":1.61},{"s":"SCF","E":18.0,"v":1.53},{"s":"SCF","E":18.35,"v":1.46},{"s":"SCF","E":18.8,"v":1.38},{"s":"SCF","E":19.33,"v":1.31},{"s":"SCF","E":19.8,"v":1.26},{"s":"SCF","E":20.3,"v":1.22},{"s":"SCF","E":20.8,"v":1.19},{"s":"SCF","E":21.28,"v":1.16},{"s":"SCF","E":21.8,"v":1.13},{"s":"SCF","E":22.26,"v":1.1},{"s":"SCF","E":22.75,"v":1.065},{"s":"SCF","E":23.24,"v":1.03},{"s":"SCF","E":23.7,"v":0.985},{"s":"SCF","E":24.22,"v":0.945},{"s":"SCF","E":24.7,"v":0.92},{"s":"SCF","E":25.2,"v":0.9},{"s":"SCF","E":25.7,"v":0.885},{"s":"SCF","E":26.17,"v":0.87},{"s":"SCF","E":26.65,"v":0.86},{"s":"SCF","E":27.15,"v":0.85},{"s":"SCF","E":27.6,"v":0.84},{"s":"SCF","E":28.13,"v":0.83},{"s":"SCF","E":28.6,"v":0.81},{"s":"SCF","E":29.1,"v":0.79},{"s":"SCF","E":29.6,"v":0.77},{"s":"SCF","E":30.09,"v":0.745},{"s":"SCF","E":30.6,"v":0.71},{"s":"SCF","E":31.06,"v":0.67},{"s":"SCF","E":31.55,"v":0.635},{"s":"SCF","E":32.04,"v":0.6},{"s":"SCF","E":32.5,"v":0.565},{"s":"SCF","E":33.02,"v":0.535},{"s":"SCF","E":33.5,"v":0.515},{"s":"SCF","E":34.0,"v":0.505},{"s":"SCF","E":34.5,"v":0.495},{"s":"SCF","E":34.98,"v":0.487},{"s":"SCF","E":35.5,"v":0.48},{"s":"SCF","E":35.95,"v":0.476},{"s":"SCF","E":36.5,"v":0.472},{"s":"SCF","E":36.93,"v":0.47},{"s":"SCF","E":37.4,"v":0.468},{"s":"SCF","E":37.9,"v":0.468},{"s":"SCF","E":38.4,"v":0.473},{"s":"SCF","E":38.89,"v":0.48},{"s":"SCF","E":39.4,"v":0.49},{"s":"SCF","E":39.87,"v":0.5},{"s":"SCF","E":40.35,"v":0.515},{"s":"SCF","E":40.84,"v":0.53},{"s":"SCF","E":41.3,"v":0.54},{"s":"SCF","E":41.82,"v":0.555},{"s":"SCF","E":42.3,"v":0.568},{"s":"SCF","E":42.8,"v":0.58},{"s":"SCF","E":43.3,"v":0.59},{"s":"SCF","E":43.78,"v":0.6},{"s":"SCF","E":44.4,"v":0.61},{"s":"SCF","E":45.0,"v":0.62},
      {"s":"MM","E":15.54,"v":0.78},{"s":"MM","E":15.78,"v":0.69},{"s":"MM","E":15.97,"v":0.62},{"s":"MM","E":16.15,"v":0.97},{"s":"MM","E":16.33,"v":1.2},{"s":"MM","E":16.5,"v":1.33},{"s":"MM","E":16.7,"v":1.3},{"s":"MM","E":16.95,"v":1.15},{"s":"MM","E":17.13,"v":1.06},{"s":"MM","E":17.4,"v":1.05},{"s":"MM","E":17.65,"v":1.1},{"s":"MM","E":18.0,"v":1.1},{"s":"MM","E":18.35,"v":1.14},{"s":"MM","E":18.65,"v":1.22},{"s":"MM","E":18.9,"v":1.33},{"s":"MM","E":19.1,"v":1.3},{"s":"MM","E":19.5,"v":1.27},{"s":"MM","E":20.0,"v":1.24},{"s":"MM","E":20.5,"v":1.21},{"s":"MM","E":21.0,"v":1.18},{"s":"MM","E":21.5,"v":1.15},{"s":"MM","E":22.0,"v":1.12},{"s":"MM","E":22.5,"v":1.08},{"s":"MM","E":23.0,"v":1.04},{"s":"MM","E":23.5,"v":0.99},{"s":"MM","E":24.0,"v":0.95},{"s":"MM","E":24.5,"v":0.9},{"s":"MM","E":25.0,"v":0.86},{"s":"MM","E":25.5,"v":0.84},{"s":"MM","E":26.0,"v":0.83},{"s":"MM","E":26.43,"v":0.83},{"s":"MM","E":27.0,"v":0.8},{"s":"MM","E":27.9,"v":0.78},{"s":"MM","E":28.6,"v":0.77},{"s":"MM","E":29.36,"v":0.76},{"s":"MM","E":30.34,"v":0.745},{"s":"MM","E":30.8,"v":0.75},{"s":"MM","E":31.3,"v":0.76},{"s":"MM","E":31.8,"v":0.78},{"s":"MM","E":32.3,"v":0.8},{"s":"MM","E":32.7,"v":0.77},{"s":"MM","E":33.27,"v":0.745},{"s":"MM","E":34.25,"v":0.72},{"s":"MM","E":34.86,"v":0.7},{"s":"MM","E":35.3,"v":0.67},{"s":"MM","E":35.8,"v":0.645},{"s":"MM","E":36.1,"v":0.65},{"s":"MM","E":36.5,"v":0.68},{"s":"MM","E":36.8,"v":0.7},{"s":"MM","E":37.3,"v":0.69},{"s":"MM","E":38.04,"v":0.68},{"s":"MM","E":39.0,"v":0.69},{"s":"MM","E":39.75,"v":0.7},{"s":"MM","E":40.5,"v":0.71},{"s":"MM","E":41.22,"v":0.72},{"s":"MM","E":42.0,"v":0.74},{"s":"MM","E":42.68,"v":0.755},{"s":"MM","E":43.3,"v":0.77},{"s":"MM","E":43.9,"v":0.78},{"s":"MM","E":44.5,"v":0.795},{"s":"MM","E":45.0,"v":0.81},
      {"s":"ST","E":18.84,"v":1.05},{"s":"ST","E":19.1,"v":0.98},{"s":"ST","E":19.33,"v":0.92},{"s":"ST","E":19.6,"v":0.87},{"s":"ST","E":19.82,"v":0.83},{"s":"ST","E":20.05,"v":0.78},{"s":"ST","E":20.2,"v":0.6},{"s":"ST","E":20.3,"v":0.1},{"s":"ST","E":20.38,"v":-0.33},{"s":"ST","E":20.45,"v":0.6},{"s":"ST","E":20.52,"v":1.68},{"s":"ST","E":20.6,"v":1.4},{"s":"ST","E":20.7,"v":1.29},{"s":"ST","E":21.04,"v":1.19},{"s":"ST","E":21.3,"v":1.1},{"s":"ST","E":21.53,"v":1.05},{"s":"ST","E":21.8,"v":0.97},{"s":"ST","E":22.02,"v":0.94},{"s":"ST","E":22.5,"v":0.9},{"s":"ST","E":23.0,"v":0.87},{"s":"ST","E":23.25,"v":0.75},{"s":"ST","E":23.38,"v":0.05},{"s":"ST","E":23.45,"v":0.6},{"s":"ST","E":23.53,"v":1.36},{"s":"ST","E":23.6,"v":1.05},{"s":"ST","E":23.73,"v":0.94},{"s":"ST","E":24.0,"v":0.85},{"s":"ST","E":24.22,"v":0.8},{"s":"ST","E":24.6,"v":0.78},{"s":"ST","E":25.07,"v":0.76},{"s":"ST","E":25.3,"v":0.66},{"s":"ST","E":25.5,"v":0.75}
    ],
    "b_points": [
      {"s":"Expt. Southworth et al.","E":16.1,"v":0.87},{"s":"Expt. Southworth et al.","E":16.44,"v":0.82},{"s":"Expt. Southworth et al.","E":16.25,"v":0.87},{"s":"Expt. Southworth et al.","E":16.95,"v":0.71},{"s":"Expt. Southworth et al.","E":17.18,"v":0.89},{"s":"Expt. Southworth et al.","E":17.42,"v":0.89},{"s":"Expt. Southworth et al.","E":17.6,"v":0.88},{"s":"Expt. Southworth et al.","E":18.03,"v":0.96},{"s":"Expt. Southworth et al.","E":18.16,"v":1.15},{"s":"Expt. Southworth et al.","E":18.4,"v":0.92},{"s":"Expt. Southworth et al.","E":18.52,"v":0.85},{"s":"Expt. Southworth et al.","E":18.77,"v":0.8},{"s":"Expt. Southworth et al.","E":18.89,"v":0.92},{"s":"Expt. Southworth et al.","E":19.01,"v":0.89},{"s":"Expt. Southworth et al.","E":19.25,"v":0.85},{"s":"Expt. Southworth et al.","E":19.5,"v":0.69},{"s":"Expt. Southworth et al.","E":19.75,"v":0.76},{"s":"Expt. Southworth et al.","E":19.87,"v":0.82},{"s":"Expt. Southworth et al.","E":19.99,"v":0.69},{"s":"Expt. Southworth et al.","E":20.24,"v":0.69},{"s":"Expt. Southworth et al.","E":20.48,"v":0.69},{"s":"Expt. Southworth et al.","E":20.7,"v":0.7},{"s":"Expt. Southworth et al.","E":20.85,"v":0.71},{"s":"Expt. Southworth et al.","E":21.09,"v":0.67},{"s":"Expt. Southworth et al.","E":21.2,"v":0.63},{"s":"Expt. Southworth et al.","E":21.33,"v":0.64},{"s":"Expt. Southworth et al.","E":21.46,"v":0.6},{"s":"Expt. Southworth et al.","E":21.58,"v":0.57},{"s":"Expt. Southworth et al.","E":21.8,"v":0.6},{"s":"Expt. Southworth et al.","E":21.95,"v":0.45},{"s":"Expt. Southworth et al.","E":22.07,"v":0.57},{"s":"Expt. Southworth et al.","E":22.31,"v":0.66},{"s":"Expt. Southworth et al.","E":22.43,"v":0.73},{"s":"Expt. Southworth et al.","E":22.68,"v":0.745},{"s":"Expt. Southworth et al.","E":22.8,"v":0.78},{"s":"Expt. Southworth et al.","E":22.92,"v":0.92},{"s":"Expt. Southworth et al.","E":23.05,"v":0.83},{"s":"Expt. Southworth et al.","E":23.29,"v":0.83},{"s":"Expt. Southworth et al.","E":23.5,"v":0.85},{"s":"Expt. Southworth et al.","E":23.78,"v":0.83},{"s":"Expt. Southworth et al.","E":24.1,"v":0.84},{"s":"Expt. Southworth et al.","E":24.51,"v":0.85},{"s":"Expt. Southworth et al.","E":24.88,"v":0.83},{"s":"Expt. Southworth et al.","E":25.2,"v":0.85},{"s":"Expt. Southworth et al.","E":25.57,"v":0.9},{"s":"Expt. Southworth et al.","E":25.9,"v":0.8},{"s":"Expt. Southworth et al.","E":26.43,"v":0.74},{"s":"Expt. Southworth et al.","E":26.92,"v":0.76},{"s":"Expt. Southworth et al.","E":27.05,"v":0.79},{"s":"Expt. Southworth et al.","E":27.4,"v":0.62},{"s":"Expt. Southworth et al.","E":27.55,"v":0.8},{"s":"Expt. Southworth et al.","E":27.89,"v":0.73},{"s":"Expt. Southworth et al.","E":28.15,"v":0.8},{"s":"Expt. Southworth et al.","E":28.63,"v":0.9},{"s":"Expt. Southworth et al.","E":28.87,"v":0.74},{"s":"Expt. Southworth et al.","E":29.36,"v":0.77},{"s":"Expt. Southworth et al.","E":29.85,"v":0.83},{"s":"Expt. Southworth et al.","E":30.2,"v":0.78},{"s":"Expt. Southworth et al.","E":30.58,"v":0.71},{"s":"Expt. Southworth et al.","E":30.83,"v":0.74},{"s":"Expt. Southworth et al.","E":31.2,"v":0.96},{"s":"Expt. Southworth et al.","E":31.44,"v":1.0},{"s":"Expt. Southworth et al.","E":31.8,"v":0.8},{"s":"Expt. Southworth et al.","E":32.05,"v":0.79},{"s":"Expt. Southworth et al.","E":32.3,"v":0.77},{"s":"Expt. Southworth et al.","E":32.54,"v":0.51},{"s":"Expt. Southworth et al.","E":32.78,"v":0.76},{"s":"Expt. Southworth et al.","E":33.15,"v":0.81},{"s":"Expt. Southworth et al.","E":33.52,"v":0.74},{"s":"Expt. Southworth et al.","E":33.76,"v":0.73},{"s":"Expt. Southworth et al.","E":34.13,"v":0.69},{"s":"Expt. Southworth et al.","E":34.37,"v":0.67},{"s":"Expt. Southworth et al.","E":34.62,"v":0.62},{"s":"Expt. Southworth et al.","E":34.86,"v":0.6},
      {"s":"Expt. Marr et al.","E":21.28,"v":0.66},{"s":"Expt. Marr et al.","E":21.46,"v":0.65},{"s":"Expt. Marr et al.","E":21.95,"v":0.57},{"s":"Expt. Marr et al.","E":23.24,"v":0.6},{"s":"Expt. Marr et al.","E":23.41,"v":0.94},{"s":"Expt. Marr et al.","E":23.73,"v":0.9},{"s":"Expt. Marr et al.","E":23.9,"v":0.92},{"s":"Expt. Marr et al.","E":24.34,"v":0.92},{"s":"Expt. Marr et al.","E":24.95,"v":0.85},{"s":"Expt. Marr et al.","E":25.93,"v":0.85},{"s":"Expt. Marr et al.","E":26.9,"v":0.89},{"s":"Expt. Marr et al.","E":27.45,"v":0.97},{"s":"Expt. Marr et al.","E":28.13,"v":0.82},{"s":"Expt. Marr et al.","E":29.1,"v":0.87},{"s":"Expt. Marr et al.","E":29.96,"v":0.83},{"s":"Expt. Marr et al.","E":30.45,"v":0.73},{"s":"Expt. Marr et al.","E":30.94,"v":0.8},{"s":"Expt. Marr et al.","E":31.43,"v":0.77},{"s":"Expt. Marr et al.","E":31.92,"v":0.78},{"s":"Expt. Marr et al.","E":32.9,"v":0.8},{"s":"Expt. Marr et al.","E":33.95,"v":0.74},{"s":"Expt. Marr et al.","E":35.47,"v":0.72},{"s":"Expt. Marr et al.","E":36.98,"v":0.7},{"s":"Expt. Marr et al.","E":37.95,"v":0.73},{"s":"Expt. Marr et al.","E":39.99,"v":0.84},{"s":"Expt. Marr et al.","E":41.48,"v":0.74},{"s":"Expt. Marr et al.","E":42.51,"v":0.89}
    ]
  },
  "vconcat": [
    {
      "width": 409,
      "height": 283,
      "resolve": {"axis": {"x": "independent", "y": "independent"}},
      "layer": [
        {
          "data": {"name": "a_lines"},
          "mark": {"type": "line", "clip": true, "strokeJoin": "miter", "strokeMiterLimit": 2},
          "encoding": {
            "x": {"field": "E", "type": "quantitative", "scale": {"domain": [15, 45], "nice": false, "zero": false}, "axis": {"orient": "bottom", "values": [15, 20, 25, 30, 35, 40, 45], "labels": false, "title": null}},
            "y": {"field": "v", "type": "quantitative", "scale": {"domain": [0, 20], "nice": false}, "axis": {"orient": "left", "values": [0, 5, 10, 15, 20], "title": "Cross Section (Mb)", "titlePadding": 2, "labelOffset": {"condition": {"test": "datum.value == 0", "value": -2.5}, "value": 0}}},
            "color": {"field": "s", "type": "nominal", "scale": {"domain": ["This work: CASSCF targets", "This work: SCF target", "Montuoro and Moccia", "Stratmann et al.", "Expt. Hamnett et al.", "Expt. Samson et al.", "Expt. Plummer et al."], "range": ["#ff0000", "#00dd00", "#ff00ff", "#2a2aff", "#333333", "#333333", "#333333"]}, "legend": {"title": null, "orient": "none", "legendX": 362.5, "legendY": 9, "labelAlign": "right", "labelOffset": -37, "labelLimit": 400, "labelFontSize": 14.5, "labelColor": "#000", "symbolSize": 36, "rowPadding": 0.6}},
            "strokeDash": {"field": "s", "type": "nominal", "scale": {"domain": ["This work: CASSCF targets", "This work: SCF target", "Montuoro and Moccia", "Stratmann et al.", "Expt. Hamnett et al.", "Expt. Samson et al.", "Expt. Plummer et al."], "range": [[1, 0], [5, 3], [1.2, 1.8], [2, 2.5], [1, 0], [1, 0], [1, 0]]}},
            "strokeWidth": {"field": "s", "type": "nominal", "scale": {"type": "ordinal", "domain": ["This work: CASSCF targets", "This work: SCF target", "Montuoro and Moccia", "Stratmann et al.", "Expt. Hamnett et al.", "Expt. Samson et al.", "Expt. Plummer et al."], "range": [2.6, 2.6, 1, 1.6, 1, 1, 1]}}
          }
        },
        {
          "data": {"name": "a_points"},
          "mark": {"type": "point", "filled": false, "clip": true, "size": 45, "strokeWidth": 1},
          "encoding": {
            "x": {"field": "E", "type": "quantitative", "axis": {"orient": "top", "values": [15, 20, 25, 30, 35, 40, 45], "labels": false, "title": null}},
            "y": {"field": "v", "type": "quantitative", "axis": {"orient": "right", "values": [0, 5, 10, 15, 20], "labels": false, "title": null}},
            "color": {"field": "s", "type": "nominal"},
            "shape": {"field": "s", "type": "nominal", "scale": {"domain": ["This work: CASSCF targets", "This work: SCF target", "Montuoro and Moccia", "Stratmann et al.", "Expt. Hamnett et al.", "Expt. Samson et al.", "Expt. Plummer et al."], "range": ["M-7,0H7", "M-7,0H7", "M-7,0H7", "M-7,0H7", "triangle-up", "circle", "square"]}}
          }
        },
        {
          "data": {"values": [{"label": "(a)"}]},
          "mark": {"type": "text", "fontSize": 24, "font": "Liberation Sans", "baseline": "middle", "align": "center"},
          "encoding": {
            "x": {"datum": 25.6, "type": "quantitative", "axis": null},
            "y": {"datum": 2.3, "type": "quantitative", "axis": null},
            "text": {"field": "label", "type": "nominal"}
          }
        }
      ]
    },
    {
      "width": 409,
      "height": 283,
      "resolve": {"axis": {"x": "independent", "y": "independent"}},
      "layer": [
        {
          "data": {"name": "b_lines"},
          "mark": {"type": "line", "clip": true, "strokeJoin": "miter", "strokeMiterLimit": 2},
          "encoding": {
            "x": {"field": "E", "type": "quantitative", "scale": {"domain": [15, 45], "nice": false, "zero": false}, "axis": {"orient": "bottom", "values": [15, 20, 25, 30, 35, 40, 45], "title": "Photon energy (eV)", "titlePadding": 2, "labelPadding": 3.5}},
            "y": {"field": "v", "type": "quantitative", "scale": {"domain": [-1, 2], "nice": false, "zero": false}, "axis": {"orient": "left", "values": [-1, -0.5, 0, 0.5, 1, 1.5, 2], "labelExpr": "datum.value % 1 == 0 ? format(datum.value, 'd') : ''", "title": "Asymmetry Parameter β", "titlePadding": 2, "labelOffset": {"condition": [{"test": "datum.value == 2", "value": 5}, {"test": "datum.value == -1", "value": -3}], "value": 0}}},
            "color": {"field": "s", "type": "nominal", "scale": {"domain": ["CASSCF", "SCF", "MM", "ST"], "range": ["#ff0000", "#00dd00", "#ff00ff", "#2a2aff"]}, "legend": null},
            "strokeDash": {"field": "s", "type": "nominal", "scale": {"domain": ["CASSCF", "SCF", "MM", "ST"], "range": [[1, 0], [5, 3], [1.2, 1.8], [2, 2.5]]}, "legend": null},
            "strokeWidth": {"field": "s", "type": "nominal", "scale": {"type": "ordinal", "domain": ["CASSCF", "SCF", "MM", "ST"], "range": [2.6, 2.6, 1, 1.6]}, "legend": null}
          }
        },
        {
          "data": {"name": "b_points"},
          "mark": {"type": "point", "filled": false, "clip": true, "size": 45, "strokeWidth": 1, "color": "#333333"},
          "encoding": {
            "x": {"field": "E", "type": "quantitative", "axis": {"orient": "top", "values": [15, 20, 25, 30, 35, 40, 45], "labels": false, "title": null}},
            "y": {"field": "v", "type": "quantitative", "axis": {"orient": "right", "values": [-1, -0.5, 0, 0.5, 1, 1.5, 2], "labels": false, "title": null}},
            "shape": {"field": "s", "type": "nominal", "scale": {"domain": ["Expt. Marr et al.", "Expt. Southworth et al."], "range": ["M-1,-1L1,1M-1,1L1,-1", "M-1,0H1M0,-1V1"]}, "legend": {"title": null, "orient": "none", "legendX": 360.3, "legendY": 8, "labelAlign": "right", "labelOffset": -35.3, "labelLimit": 400, "labelFontSize": 14.5, "labelColor": "#000", "symbolSize": 45, "rowPadding": 1}}
          }
        },
        {
          "data": {"values": [{"label": "(b)"}]},
          "mark": {"type": "text", "fontSize": 24, "font": "Liberation Sans", "baseline": "middle", "align": "center"},
          "encoding": {
            "x": {"datum": 25.6, "type": "quantitative", "axis": null},
            "y": {"datum": -0.51, "type": "quantitative", "axis": null},
            "text": {"field": "label", "type": "nominal"}
          }
        }
      ]
    }
  ]
}
